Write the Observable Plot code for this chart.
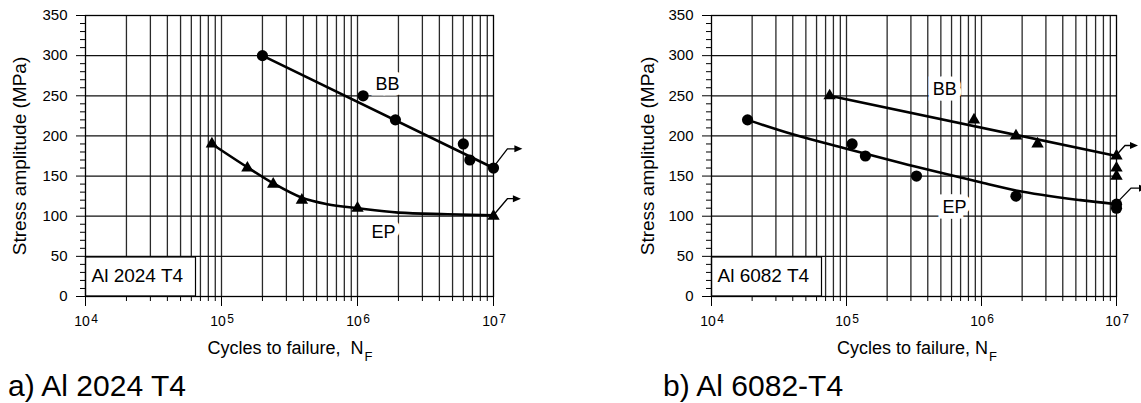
<!DOCTYPE html>
<html><head><meta charset="utf-8">
<script src="https://cdn.jsdelivr.net/npm/d3@7"></script>
<script src="https://cdn.jsdelivr.net/npm/@observablehq/plot@0.6"></script>
<style>
body{margin:0;background:#fff;font-family:"Liberation Sans",Arial,sans-serif;}
#wrap{position:relative;width:1141px;height:403px;overflow:hidden;background:#fff;}
.chart{position:absolute;top:0;}
.cap{position:absolute;font-size:30px;line-height:1;top:371px;color:#000;white-space:nowrap;}
</style></head><body>
<div id="wrap">
  <div id="chartA" class="chart" style="left:0;width:570px"></div>
  <div id="chartB" class="chart" style="left:570px;width:571px"></div>
  <div class="cap" style="left:8px">a) Al 2024 T4</div>
  <div class="cap" style="left:663px">b) Al 6082-T4</div>
</div>
<script>
// ---------- data ----------
const yMajor = [0, 50, 100, 150, 200, 250, 300, 350];
const yMinor = [10, 20, 30, 40, 60, 70, 80, 90, 110, 120, 130, 140, 160, 170, 180, 190, 210, 220, 230, 240, 260, 270, 280, 290, 310, 320, 330, 340];
const yGrid = [50, 100, 150, 200, 250, 300];
const decades = [1e4, 1e5, 1e6, 1e7];
const decadeExp = ["4", "5", "6", "7"];
const subMultipliers = [2, 3, 4, 5, 6, 7, 8, 9];
const yTitle = "Stress amplitude (MPa)";

// a) Al 2024 T4
const aBB_N = [2e5, 1.1e6, 1.9e6, 6e6, 6.7e6, 1e7];
const aBB_S = [300, 250, 220, 190, 170, 160];
const aBBfit_N = [2e5, 1e7];
const aBBfit_S = [300, 160];
const aEP_N = [8.5e4, 1.55e5, 2.4e5, 3.9e5, 1e6, 1e7];
const aEP_S = [190, 160, 140, 120, 110, 100];
const aEPfit_N = [8.5e4, 1.55e5, 2.4e5, 3.9e5, 6e5, 1e6, 2e6, 4.6e6, 1e7];
const aEPfit_S = [190, 161, 141, 123, 115, 110, 104.5, 102.5, 101];
const aRun_N = [1e7, 1e7];
const aRun_S = [160, 100];
const aLabels = ["BB", "EP"];
const aLabel_N = [1.66e6, 1.55e6];
const aLabel_S = [264, 80];
const aBox = "Al 2024 T4";
const aXTitle = "Cycles to failure,\u00a0 N";

// b) Al 6082-T4
const bBB_N = [7.5e4, 8.8e5, 1.8e6, 2.6e6, 1e7, 1e7, 1e7];
const bBB_S = [250, 220, 200, 190, 175, 160, 150];
const bBBfit_N = [7.5e4, 1e7];
const bBBfit_S = [250, 175];
const bEP_N = [1.85e4, 1.1e5, 1.38e5, 3.3e5, 1.8e6, 1e7, 1e7];
const bEP_S = [220, 190, 175, 150, 125, 115, 110];
const bEPfit_N = [1.85e4, 4e4, 1e5, 2.5e5, 1e6, 1.8e6, 5.4e6, 1e7];
const bEPfit_S = [220, 202, 184, 166.5, 142, 132, 120, 115];
const bRun_N = [1e7, 1e7];
const bRun_S = [175, 115];
const bLabels = ["BB", "EP"];
const bLabel_N = [5.35e5, 6.3e5];
const bLabel_S = [258.6, 111.4];
const bBox = "Al 6082 T4";
const bXTitle = "Cycles to failure, N";

// ---------- helpers ----------
const zip = (N, S) => N.map((n, i) => ({n, s: S[i]}));
const zipL = (N, S, T) => N.map((n, i) => ({n, s: S[i], t: T[i]}));
const xGrid = [];
for (const d of decades.slice(0, 3)) for (const m of subMultipliers) xGrid.push(d * m);
const xMinorTicks = xGrid;
const xGridLines = xGrid.concat([1e5, 1e6]);
const decadeRows = decades.map((d, i) => ({n: d, e: decadeExp[i]}));

function arrowMark(runs, geom) {
  return (index, scales) => {
    const g = d3.create("svg:g");
    runs.forEach((r, i) => {
      const gm = geom[i];
      const px = scales.x(r.n), py = scales.y(r.s);
      const x1 = px + gm[0], y1 = py + gm[1], x2 = x1 + gm[2];
      g.append("path").attr("d", `M${px},${py}L${x1},${y1}L${x2 - 5},${y1}`)
        .attr("fill", "none").attr("stroke", "#000").attr("stroke-width", 1.3);
      g.append("path").attr("d", `M${x2},${y1}L${x2 - 8},${y1 - 3.5}L${x2 - 8},${y1 + 3.5}Z`)
        .attr("fill", "#000");
    });
    return g.node();
  };
}
function boxMark() {
  return (index, scales, values, dims) => {
    const g = d3.create("svg:g");
    const y0 = dims.height - dims.marginBottom;
    g.append("rect").attr("x", dims.marginLeft + 0.5).attr("y", y0 - 39).attr("width", 110).attr("height", 39)
      .attr("fill", "#fff").attr("stroke", "#000").attr("stroke-width", 1.2);
    return g.node();
  };
}

function makeChart(cfg) {
  return Plot.plot({
    width: cfg.width, height: 372,
    marginLeft: cfg.ml, marginRight: cfg.mr, marginTop: 15, marginBottom: 76,
    style: {fontFamily: "Liberation Sans, Arial, sans-serif", fontSize: "15px", color: "#000", background: "#fff"},
    x: {type: "log", domain: [1e4, 1e7]},
    y: {domain: [0, 350]},
    marks: [
      Plot.ruleX(xGridLines, {stroke: "#2a2a2a", strokeWidth: 1.3}),
      Plot.ruleY(yGrid, {stroke: "#111", strokeWidth: 1.2}),
      Plot.text(cfg.labels, {x: "n", y: "s", text: "t",
        fontSize: 18, fill: "#000", stroke: "#fff", strokeWidth: 11, paintOrder: "stroke", strokeLinejoin: "miter"}),
      boxMark(),
      Plot.text([cfg.box], {frameAnchor: "bottom-left", text: d => d, textAnchor: "start", dx: 6, dy: -21, fontSize: 19, lineAnchor: "middle"}),
      Plot.line(cfg.bbFit, {x: "n", y: "s", stroke: "#000", strokeWidth: 2.6}),
      Plot.line(cfg.epFit, {x: "n", y: "s", stroke: "#000", strokeWidth: 2.6, curve: "monotone-x"}),
      Plot.dot(cfg.bb, {x: "n", y: "s", fill: "#000", stroke: "none", symbol: cfg.bbSym, r: cfg.bbSym === "circle" ? 5.6 : 4.6}),
      Plot.dot(cfg.ep, {x: "n", y: "s", fill: "#000", stroke: "none", symbol: cfg.epSym, r: cfg.epSym === "circle" ? 5.6 : 4.6}),
      Plot.frame({stroke: "#000", strokeWidth: 1.3}),
      Plot.axisY({ticks: yMajor, tickSize: 9, tickPadding: 9, label: null, fontSize: 15}),
      Plot.axisY({ticks: yMinor, tickSize: 5, tickFormat: () => "", label: null}),
      Plot.axisX({ticks: xMinorTicks, tickSize: 5, tickFormat: () => "", label: null}),
      Plot.axisX({ticks: decades, tickSize: 10, tickFormat: () => "", label: null}),
      Plot.text(decadeRows, {x: "n", text: () => "10", frameAnchor: "bottom", dx: -3.5, dy: 29, fontSize: 14}),
      Plot.text(decadeRows, {x: "n", text: "e", frameAnchor: "bottom", dx: 9, dy: 26, fontSize: 12}),
      Plot.text([cfg.xTitle], {frameAnchor: "bottom", text: d => d, textAnchor: "end", dx: 74, dy: 57, fontSize: 18}),
      Plot.text(["F"], {frameAnchor: "bottom", text: d => d, textAnchor: "start", dx: 75, dy: 64, fontSize: 13}),
      Plot.text([yTitle], {frameAnchor: "left", text: d => d, rotate: -90, textAnchor: "middle", dx: cfg.ytdx, fontSize: 19}),
      arrowMark(cfg.runs, cfg.arrowGeom)
    ]
  });
}

document.getElementById("chartA").append(makeChart({
  width: 570, ml: 85, mr: 77,
  bb: zip(aBB_N, aBB_S), bbFit: zip(aBBfit_N, aBBfit_S), bbSym: "circle",
  ep: zip(aEP_N, aEP_S), epFit: zip(aEPfit_N, aEPfit_S), epSym: "triangle",
  runs: zip(aRun_N, aRun_S), arrowGeom: [[14.4, -18.7, 15], [14.4, -17, 13.5]],
  labels: zipL(aLabel_N, aLabel_S, aLabels), box: aBox, xTitle: aXTitle, ytdx: -66
}));
document.getElementById("chartB").append(makeChart({
  width: 571, ml: 141, mr: 25,
  bb: zip(bBB_N, bBB_S), bbFit: zip(bBBfit_N, bBBfit_S), bbSym: "triangle",
  ep: zip(bEP_N, bEP_S), epFit: zip(bEPfit_N, bEPfit_S), epSym: "circle",
  runs: zip(bRun_N, bRun_S), arrowGeom: [[9, -10, 13], [15, -15.5, 16]],
  labels: zipL(bLabel_N, bLabel_S, bLabels), box: bBox, xTitle: bXTitle, ytdx: -63.5
}));
</script>
</body></html>
